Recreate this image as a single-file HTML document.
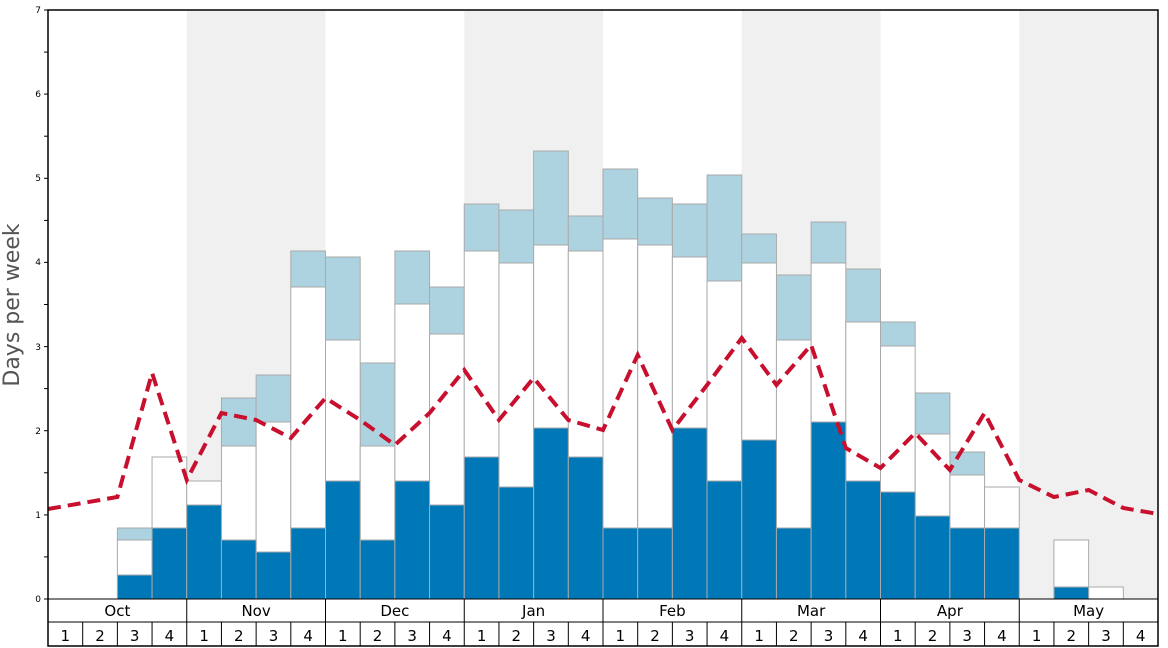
<!DOCTYPE html>
<html><head><meta charset="utf-8"><style>html,body{margin:0;padding:0;background:#fff}svg{display:block}</style></head>
<body>
<svg width="1168" height="648" xmlns="http://www.w3.org/2000/svg" font-family="DejaVu Sans, Liberation Sans, sans-serif">
<rect width="1168" height="648" fill="#fff"/>
<g fill="#f0f0f0">
<rect x="186.75" y="10" width="138.75" height="589"/>
<rect x="464.25" y="10" width="138.75" height="589"/>
<rect x="741.75" y="10" width="138.75" height="589"/>
<rect x="1019.25" y="10" width="138.75" height="589"/>
</g>
<g stroke="#aaa" stroke-width="1">
<g fill="#aed3e0">
<rect x="117.38" y="528" width="34.69" height="12"/>
<rect x="221.44" y="398" width="34.69" height="48"/>
<rect x="256.13" y="375" width="34.69" height="47"/>
<rect x="290.81" y="251" width="34.69" height="36"/>
<rect x="325.5" y="257" width="34.69" height="83"/>
<rect x="360.19" y="363" width="34.69" height="83"/>
<rect x="394.88" y="251" width="34.69" height="53"/>
<rect x="429.56" y="287" width="34.69" height="47"/>
<rect x="464.25" y="204" width="34.69" height="47"/>
<rect x="498.94" y="210" width="34.69" height="53"/>
<rect x="533.63" y="151" width="34.69" height="94"/>
<rect x="568.31" y="216" width="34.69" height="35"/>
<rect x="603" y="169" width="34.69" height="70"/>
<rect x="637.69" y="198" width="34.69" height="47"/>
<rect x="672.38" y="204" width="34.69" height="53"/>
<rect x="707.06" y="175" width="34.69" height="106"/>
<rect x="741.75" y="234" width="34.69" height="29"/>
<rect x="776.44" y="275" width="34.69" height="65"/>
<rect x="811.13" y="222" width="34.69" height="41"/>
<rect x="845.81" y="269" width="34.69" height="53"/>
<rect x="880.5" y="322" width="34.69" height="24"/>
<rect x="915.19" y="393" width="34.69" height="41"/>
<rect x="949.88" y="452" width="34.69" height="23"/>
</g>
<g fill="#fff">
<rect x="117.38" y="540" width="34.69" height="35"/>
<rect x="152.06" y="457" width="34.69" height="71"/>
<rect x="186.75" y="481" width="34.69" height="24"/>
<rect x="221.44" y="446" width="34.69" height="94"/>
<rect x="256.13" y="422" width="34.69" height="130"/>
<rect x="290.81" y="287" width="34.69" height="241"/>
<rect x="325.5" y="340" width="34.69" height="141"/>
<rect x="360.19" y="446" width="34.69" height="94"/>
<rect x="394.88" y="304" width="34.69" height="177"/>
<rect x="429.56" y="334" width="34.69" height="171"/>
<rect x="464.25" y="251" width="34.69" height="206"/>
<rect x="498.94" y="263" width="34.69" height="224"/>
<rect x="533.63" y="245" width="34.69" height="183"/>
<rect x="568.31" y="251" width="34.69" height="206"/>
<rect x="603" y="239" width="34.69" height="289"/>
<rect x="637.69" y="245" width="34.69" height="283"/>
<rect x="672.38" y="257" width="34.69" height="171"/>
<rect x="707.06" y="281" width="34.69" height="200"/>
<rect x="741.75" y="263" width="34.69" height="177"/>
<rect x="776.44" y="340" width="34.69" height="188"/>
<rect x="811.13" y="263" width="34.69" height="159"/>
<rect x="845.81" y="322" width="34.69" height="159"/>
<rect x="880.5" y="346" width="34.69" height="146"/>
<rect x="915.19" y="434" width="34.69" height="82"/>
<rect x="949.88" y="475" width="34.69" height="53"/>
<rect x="984.56" y="487" width="34.69" height="41"/>
<rect x="1053.94" y="540" width="34.69" height="47"/>
<rect x="1088.63" y="587" width="34.69" height="12"/>
</g>
<g fill="#0077b6">
<rect x="117.38" y="575" width="34.69" height="24"/>
<rect x="152.06" y="528" width="34.69" height="71"/>
<rect x="186.75" y="505" width="34.69" height="94"/>
<rect x="221.44" y="540" width="34.69" height="59"/>
<rect x="256.13" y="552" width="34.69" height="47"/>
<rect x="290.81" y="528" width="34.69" height="71"/>
<rect x="325.5" y="481" width="34.69" height="118"/>
<rect x="360.19" y="540" width="34.69" height="59"/>
<rect x="394.88" y="481" width="34.69" height="118"/>
<rect x="429.56" y="505" width="34.69" height="94"/>
<rect x="464.25" y="457" width="34.69" height="142"/>
<rect x="498.94" y="487" width="34.69" height="112"/>
<rect x="533.63" y="428" width="34.69" height="171"/>
<rect x="568.31" y="457" width="34.69" height="142"/>
<rect x="603" y="528" width="34.69" height="71"/>
<rect x="637.69" y="528" width="34.69" height="71"/>
<rect x="672.38" y="428" width="34.69" height="171"/>
<rect x="707.06" y="481" width="34.69" height="118"/>
<rect x="741.75" y="440" width="34.69" height="159"/>
<rect x="776.44" y="528" width="34.69" height="71"/>
<rect x="811.13" y="422" width="34.69" height="177"/>
<rect x="845.81" y="481" width="34.69" height="118"/>
<rect x="880.5" y="492" width="34.69" height="107"/>
<rect x="915.19" y="516" width="34.69" height="83"/>
<rect x="949.88" y="528" width="34.69" height="71"/>
<rect x="984.56" y="528" width="34.69" height="71"/>
<rect x="1053.94" y="587" width="34.69" height="12"/>
</g>
</g>
<polyline fill="none" stroke="#c8102e" stroke-width="4" stroke-dasharray="13,7" points="48,509 82.69,503 117.38,497 152.06,373 186.75,480 221.44,413 256.13,420 290.81,438 325.5,398 360.19,420 394.88,445 429.56,413 464.25,370 498.94,420 533.63,378 568.31,420 603,430 637.69,355 672.38,430 707.06,385 741.75,338 776.44,385 811.13,345 845.81,448 880.5,468 915.19,433 949.88,470 984.56,413 1019.25,480 1053.94,497 1088.63,490 1123.31,508 1158,514"/>
<rect x="48" y="10" width="1110" height="636" fill="none" stroke="#000" stroke-width="1.5"/>
<g stroke="#000" stroke-width="1">
<line x1="48" y1="599" x2="1158" y2="599"/>
<line x1="48" y1="622" x2="1158" y2="622"/>
<line x1="186.75" y1="599" x2="186.75" y2="622"/><line x1="325.5" y1="599" x2="325.5" y2="622"/><line x1="464.25" y1="599" x2="464.25" y2="622"/><line x1="603" y1="599" x2="603" y2="622"/><line x1="741.75" y1="599" x2="741.75" y2="622"/><line x1="880.5" y1="599" x2="880.5" y2="622"/><line x1="1019.25" y1="599" x2="1019.25" y2="622"/>
<line x1="82.69" y1="622" x2="82.69" y2="646"/><line x1="117.38" y1="622" x2="117.38" y2="646"/><line x1="152.06" y1="622" x2="152.06" y2="646"/><line x1="186.75" y1="622" x2="186.75" y2="646"/><line x1="221.44" y1="622" x2="221.44" y2="646"/><line x1="256.13" y1="622" x2="256.13" y2="646"/><line x1="290.81" y1="622" x2="290.81" y2="646"/><line x1="325.5" y1="622" x2="325.5" y2="646"/><line x1="360.19" y1="622" x2="360.19" y2="646"/><line x1="394.88" y1="622" x2="394.88" y2="646"/><line x1="429.56" y1="622" x2="429.56" y2="646"/><line x1="464.25" y1="622" x2="464.25" y2="646"/><line x1="498.94" y1="622" x2="498.94" y2="646"/><line x1="533.63" y1="622" x2="533.63" y2="646"/><line x1="568.31" y1="622" x2="568.31" y2="646"/><line x1="603" y1="622" x2="603" y2="646"/><line x1="637.69" y1="622" x2="637.69" y2="646"/><line x1="672.38" y1="622" x2="672.38" y2="646"/><line x1="707.06" y1="622" x2="707.06" y2="646"/><line x1="741.75" y1="622" x2="741.75" y2="646"/><line x1="776.44" y1="622" x2="776.44" y2="646"/><line x1="811.13" y1="622" x2="811.13" y2="646"/><line x1="845.81" y1="622" x2="845.81" y2="646"/><line x1="880.5" y1="622" x2="880.5" y2="646"/><line x1="915.19" y1="622" x2="915.19" y2="646"/><line x1="949.88" y1="622" x2="949.88" y2="646"/><line x1="984.56" y1="622" x2="984.56" y2="646"/><line x1="1019.25" y1="622" x2="1019.25" y2="646"/><line x1="1053.94" y1="622" x2="1053.94" y2="646"/><line x1="1088.63" y1="622" x2="1088.63" y2="646"/><line x1="1123.31" y1="622" x2="1123.31" y2="646"/>
<line x1="44" y1="599" x2="48" y2="599"/><line x1="44" y1="556.9" x2="48" y2="556.9"/><line x1="44" y1="514.9" x2="48" y2="514.9"/><line x1="44" y1="472.8" x2="48" y2="472.8"/><line x1="44" y1="430.7" x2="48" y2="430.7"/><line x1="44" y1="388.6" x2="48" y2="388.6"/><line x1="44" y1="346.6" x2="48" y2="346.6"/><line x1="44" y1="304.5" x2="48" y2="304.5"/><line x1="44" y1="262.4" x2="48" y2="262.4"/><line x1="44" y1="220.4" x2="48" y2="220.4"/><line x1="44" y1="178.3" x2="48" y2="178.3"/><line x1="44" y1="136.2" x2="48" y2="136.2"/><line x1="44" y1="94.1" x2="48" y2="94.1"/><line x1="44" y1="52.1" x2="48" y2="52.1"/><line x1="44" y1="10" x2="48" y2="10"/>
</g>
<g font-size="15" text-anchor="middle" fill="#000">
<text x="117.4" y="616">Oct</text><text x="256.1" y="616">Nov</text><text x="394.9" y="616">Dec</text><text x="533.6" y="616">Jan</text><text x="672.4" y="616">Feb</text><text x="811.1" y="616">Mar</text><text x="949.9" y="616">Apr</text><text x="1088.6" y="616">May</text>
<text x="65.3" y="641">1</text><text x="100" y="641">2</text><text x="134.7" y="641">3</text><text x="169.4" y="641">4</text>
<text x="204.1" y="641">1</text><text x="238.8" y="641">2</text><text x="273.5" y="641">3</text><text x="308.2" y="641">4</text>
<text x="342.8" y="641">1</text><text x="377.5" y="641">2</text><text x="412.2" y="641">3</text><text x="446.9" y="641">4</text>
<text x="481.6" y="641">1</text><text x="516.3" y="641">2</text><text x="551" y="641">3</text><text x="585.7" y="641">4</text>
<text x="620.3" y="641">1</text><text x="655" y="641">2</text><text x="689.7" y="641">3</text><text x="724.4" y="641">4</text>
<text x="759.1" y="641">1</text><text x="793.8" y="641">2</text><text x="828.5" y="641">3</text><text x="863.2" y="641">4</text>
<text x="897.8" y="641">1</text><text x="932.5" y="641">2</text><text x="967.2" y="641">3</text><text x="1001.9" y="641">4</text>
<text x="1036.6" y="641">1</text><text x="1071.3" y="641">2</text><text x="1106" y="641">3</text><text x="1140.7" y="641">4</text>
</g>
<g font-size="9" text-anchor="end" fill="#000">
<text x="41" y="602">0</text><text x="41" y="518">1</text><text x="41" y="434">2</text><text x="41" y="350">3</text><text x="41" y="265">4</text><text x="41" y="181">5</text><text x="41" y="97">6</text><text x="41" y="13">7</text>
</g>
<text transform="translate(19,305) rotate(-90)" font-size="22" fill="#555" text-anchor="middle">Days per week</text>
</svg>
</body></html>
